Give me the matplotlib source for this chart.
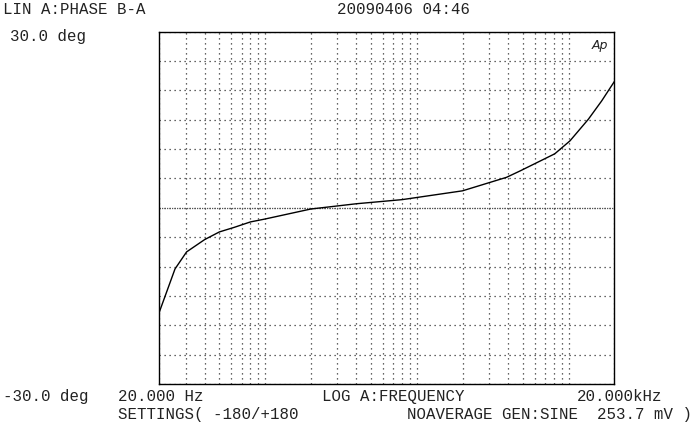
import numpy as np
import matplotlib
matplotlib.use("Agg")
import matplotlib.pyplot as plt
from matplotlib.ticker import LogLocator, MultipleLocator, NullFormatter

freq_hz = [20, 25.5, 30.4, 40, 50, 63, 80, 100, 200, 400, 800,
           2000, 3900, 4800, 8100, 10200, 13500, 16500, 20000]
phase_deg = [-17.9, -10.4, -7.5, -5.4, -4.1, -3.3, -2.4, -1.9, -0.2, 0.7, 1.4,
             2.9, 5.2, 6.3, 9.2, 11.4, 15.1, 18.2, 21.5]

x_range = (20, 20000)
y_range = (-30, 30)

W, H = 693, 427
fig = plt.figure(figsize=(W / 100, H / 100), dpi=100)

# plot box in pixels: left 159, top 32.7, right 614.3, bottom 385
ax = fig.add_axes([159 / W, (H - 385) / H, (614.3 - 159) / W, (385 - 32.7) / H])
ax.set_xscale("log")
ax.set_xlim(*x_range)
ax.set_ylim(*y_range)

ax.xaxis.set_major_locator(LogLocator(base=10, subs=np.arange(1, 10)))
ax.xaxis.set_minor_locator(LogLocator(base=10, subs=[]))
ax.xaxis.set_major_formatter(NullFormatter())
ax.yaxis.set_major_locator(MultipleLocator(5))
ax.yaxis.set_major_formatter(NullFormatter())
ax.tick_params(length=0, labelbottom=False, labelleft=False)
ax.grid(True, which="major", color="#333333", linestyle=(0, (1, 3)), linewidth=0.9)

# densely dotted zero line
ax.axhline(0, color="#555555", linestyle=(0, (1, 1)), linewidth=0.9)

ax.plot(freq_hz, phase_deg, color="black", linewidth=1.0)

for sp in ax.spines.values():
    sp.set_color("black")
    sp.set_linewidth(1.0)

mono = dict(family="Liberation Mono", fontsize=11.3, color="#222222", va="center", ha="left")


def label(x, y, s, **kw):
    opts = dict(mono)
    opts.update(kw)
    fig.text(x / W, 1 - y / H, s, **opts)


label(3, 9, "LIN A:PHASE B-A")
label(337, 9, "20090406 04:46")
label(10, 37, "30.0 deg")
label(3, 397, "-30.0 deg")
label(118, 397, "20.000 Hz")
label(322, 397, "LOG A:FREQUENCY")
label(577, 397, "20.000kHz")
label(118, 415, "SETTINGS( -180/+180")
label(407, 415, "NOAVERAGE GEN:SINE  253.7 mV )")

# analyzer logo in the top right corner
label(600, 46, "Ap", family="DejaVu Sans", fontsize=9, style="italic", ha="center")

fig.savefig("out.png", dpi=100)
